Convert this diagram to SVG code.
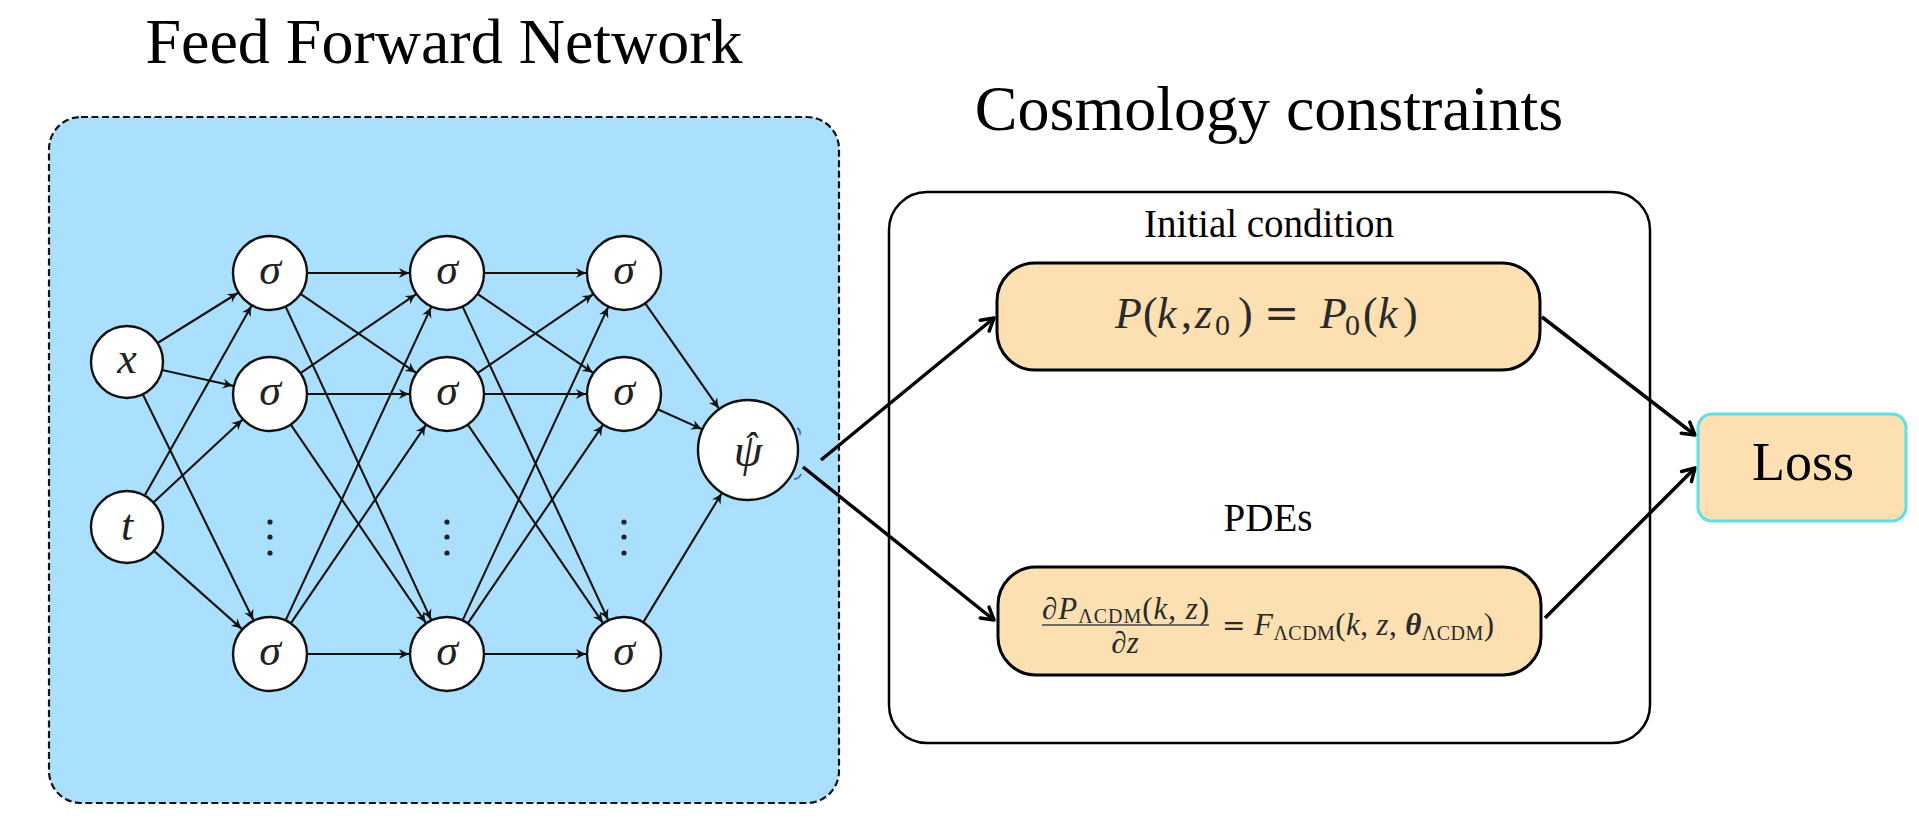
<svg xmlns="http://www.w3.org/2000/svg" width="1919" height="831" viewBox="0 0 1919 831">
<defs>
<style>
text{font-family:'Liberation Serif','Times New Roman','DejaVu Serif',serif}
.title{fill:#000;text-anchor:middle}
.lbl{fill:#000;text-anchor:middle}
.math{fill:#2a2a2a}
.it{font-style:italic}
.eq{font-family:'DejaVu Serif',serif;font-style:normal}
.neuron{fill:#fff;stroke:#111;stroke-width:2.4}
.ntext{font-style:italic;fill:#222;text-anchor:middle;font-size:44px}
.e{stroke:#111;stroke-width:2.1;fill:none;marker-end:url(#ah)}
.big{stroke:#000;stroke-width:3.5;fill:none;marker-end:url(#bh)}
.dot{fill:#222}
.orange{fill:#fde0b2;stroke:#000;stroke-width:3}
</style>
<marker id="ah" viewBox="-13 -6 14 12" refX="0" refY="0" markerWidth="14" markerHeight="12" markerUnits="userSpaceOnUse" orient="auto">
<path d="M-11,-5 Q-5,-1.3 0,0 Q-5,1.3 -11,5 L-8,0 Z" fill="#111"/>
</marker>
<marker id="bh" viewBox="-16 -10 20 20" refX="0" refY="0" markerWidth="20" markerHeight="20" markerUnits="userSpaceOnUse" orient="auto">
<path d="M-12,-7 L0,0 L-12,7" fill="none" stroke="#000" stroke-width="3.5" stroke-linecap="round" stroke-linejoin="round"/>
</marker>
</defs>
<rect width="1919" height="831" fill="#fff"/>

<g id="title-ffn"><text class="title" x="444" y="63" font-size="64">Feed Forward Network</text></g>
<g id="title-cosmo"><text class="title" x="1269" y="130" font-size="64">Cosmology constraints</text></g>

<g id="ffn-box"><rect x="49" y="117" width="790" height="686" rx="32" fill="#aadffd" stroke="#111" stroke-width="2.2" stroke-dasharray="7 3.5"/></g>

<g id="constraints-box">
<rect x="889" y="192" width="761" height="551" rx="38" fill="#fff" stroke="#000" stroke-width="2.5"/>
<text class="lbl" x="1269" y="237" font-size="39">Initial condition</text>
<text class="lbl" x="1268" y="531" font-size="39">PDEs</text>
</g>

<g id="connectors">
<line class="e" x1="157.6" y1="343" x2="238.6" y2="292.5"/>
<line class="e" x1="162.1" y1="369.9" x2="233.9" y2="385.9"/>
<line class="e" x1="142.8" y1="394.3" x2="253.7" y2="620.8"/>
<line class="e" x1="144.7" y1="495.6" x2="251.8" y2="305.2"/>
<line class="e" x1="153.4" y1="502.5" x2="242.9" y2="419.2"/>
<line class="e" x1="153.9" y1="550.9" x2="242.3" y2="629.4"/>

<line class="e" x1="307" y1="273" x2="410" y2="273"/>
<line class="e" x1="307" y1="394" x2="410" y2="394"/>
<line class="e" x1="307" y1="654" x2="410" y2="654"/>
<line class="e" x1="300.5" y1="293.9" x2="416.5" y2="373.1"/>
<line class="e" x1="285.6" y1="306.6" x2="431.4" y2="620.4"/>
<line class="e" x1="300.5" y1="373.1" x2="416.5" y2="293.9"/>
<line class="e" x1="290.8" y1="424.6" x2="426.2" y2="623.4"/>
<line class="e" x1="285.6" y1="620.4" x2="431.4" y2="306.6"/>
<line class="e" x1="290.8" y1="623.4" x2="426.2" y2="424.6"/>

<line class="e" x1="484" y1="273" x2="587" y2="273"/>
<line class="e" x1="484" y1="394" x2="587" y2="394"/>
<line class="e" x1="484" y1="654" x2="587" y2="654"/>
<line class="e" x1="477.5" y1="293.9" x2="593.5" y2="373.1"/>
<line class="e" x1="462.6" y1="306.6" x2="608.4" y2="620.4"/>
<line class="e" x1="477.5" y1="373.1" x2="593.5" y2="293.9"/>
<line class="e" x1="467.8" y1="424.6" x2="603.2" y2="623.4"/>
<line class="e" x1="462.6" y1="620.4" x2="608.4" y2="306.6"/>
<line class="e" x1="467.8" y1="623.4" x2="603.2" y2="424.6"/>

<line class="e" x1="645.2" y1="303.3" x2="719.3" y2="409.1"/>
<line class="e" x1="657.7" y1="409.2" x2="702.4" y2="429.4"/>
<line class="e" x1="643.2" y1="622.4" x2="722" y2="492.7"/>

<line class="big" x1="821" y1="460" x2="994" y2="318"/>
<line class="big" x1="803" y1="467" x2="994" y2="620"/>
<line class="big" x1="1542" y1="317" x2="1695" y2="435"/>
<line class="big" x1="1545" y1="618" x2="1695" y2="468"/>
</g>

<g id="node-x"><circle class="neuron" cx="127" cy="362" r="36"/><text class="ntext" x="127" y="373">x</text></g>
<g id="node-t"><circle class="neuron" cx="127" cy="527" r="36"/><text class="ntext" x="127" y="540">t</text></g>

<g id="node-a1"><circle class="neuron" cx="270" cy="273" r="37"/><text class="ntext" x="270" y="284">σ</text></g>
<g id="node-a2"><circle class="neuron" cx="270" cy="394" r="37"/><text class="ntext" x="270" y="405">σ</text></g>
<g id="node-a3"><circle class="neuron" cx="270" cy="654" r="37"/><text class="ntext" x="270" y="665">σ</text></g>
<g id="node-b1"><circle class="neuron" cx="447" cy="273" r="37"/><text class="ntext" x="447" y="284">σ</text></g>
<g id="node-b2"><circle class="neuron" cx="447" cy="394" r="37"/><text class="ntext" x="447" y="405">σ</text></g>
<g id="node-b3"><circle class="neuron" cx="447" cy="654" r="37"/><text class="ntext" x="447" y="665">σ</text></g>
<g id="node-c1"><circle class="neuron" cx="624" cy="273" r="37"/><text class="ntext" x="624" y="284">σ</text></g>
<g id="node-c2"><circle class="neuron" cx="624" cy="394" r="37"/><text class="ntext" x="624" y="405">σ</text></g>
<g id="node-c3"><circle class="neuron" cx="624" cy="654" r="37"/><text class="ntext" x="624" y="665">σ</text></g>

<g id="vdots">
<circle class="dot" cx="270" cy="522" r="2.6"/><circle class="dot" cx="270" cy="537" r="2.6"/><circle class="dot" cx="270" cy="553" r="2.6"/>
<circle class="dot" cx="447" cy="522" r="2.6"/><circle class="dot" cx="447" cy="537" r="2.6"/><circle class="dot" cx="447" cy="553" r="2.6"/>
<circle class="dot" cx="624" cy="522" r="2.6"/><circle class="dot" cx="624" cy="537" r="2.6"/><circle class="dot" cx="624" cy="553" r="2.6"/>
</g>

<g id="node-psi">
<circle class="neuron" cx="748" cy="450" r="50"/>
<text class="ntext" x="748" y="466" style="font-size:46px">ψ<tspan dx="-19" dy="-6" style="font-size:40px">ˆ</tspan></text>
<path d="M797,428 q4,2 3,7" stroke="#3b4fe0" stroke-width="1.5" fill="none"/>
<path d="M794,479 q5,0 7,-5" stroke="#3b4fe0" stroke-width="1.5" fill="none"/>
</g>

<g id="node-ic">
<rect class="orange" x="997" y="263" width="543" height="107" rx="38"/>
<text class="math" y="328" font-size="44"><tspan x="1115" class="it">P</tspan><tspan x="1143">(</tspan><tspan x="1157" class="it">k</tspan><tspan x="1181">,</tspan><tspan x="1195" class="it">z</tspan><tspan x="1215" dy="7" font-size="30">0</tspan><tspan x="1238" dy="-7">)</tspan><tspan x="1264" class="eq" font-size="42">=</tspan><tspan x="1320" class="it">P</tspan><tspan x="1345" dy="7" font-size="30">0</tspan><tspan x="1363" dy="-7">(</tspan><tspan x="1378" class="it">k</tspan><tspan x="1403">)</tspan></text>
</g>

<g id="node-pde">
<rect class="orange" x="998" y="567" width="543" height="108" rx="38"/>
<text class="math" x="1042" y="619" font-size="31" textLength="167" lengthAdjust="spacing">∂<tspan class="it">P</tspan><tspan font-size="20" dy="4">ΛCDM</tspan><tspan dy="-4">(</tspan><tspan class="it">k</tspan>, <tspan class="it">z</tspan>)</text>
<line x1="1042" y1="625" x2="1209" y2="625" stroke="#444" stroke-width="1.5"/>
<text class="math" x="1125" y="653" font-size="31" text-anchor="middle">∂<tspan class="it">z</tspan></text>
<text class="math" x="1222" y="635" font-size="31" textLength="272" lengthAdjust="spacing"><tspan class="eq" font-size="28">=</tspan> <tspan class="it">F</tspan><tspan font-size="20" dy="5">ΛCDM</tspan><tspan dy="-5">(</tspan><tspan class="it">k</tspan>, <tspan class="it">z</tspan>, <tspan class="it" font-weight="bold">θ</tspan><tspan font-size="20" dy="5">ΛCDM</tspan><tspan dy="-5">)</tspan></text>
</g>

<g id="node-loss">
<rect x="1698" y="414" width="208" height="107" rx="14" fill="#fde0b2" stroke="#5fe0e6" stroke-width="3"/>
<text class="lbl" x="1803" y="480" font-size="54">Loss</text>
</g>
</svg>
